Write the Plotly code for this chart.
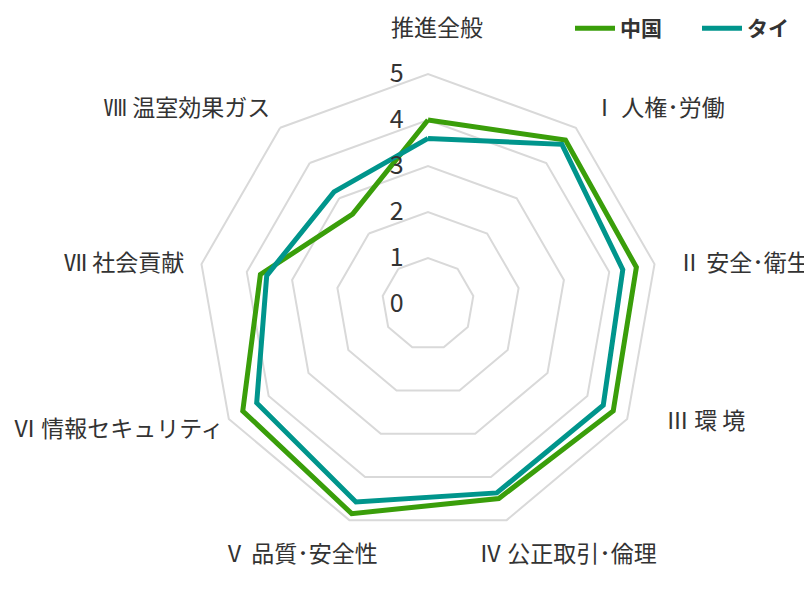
import plotly.graph_objects as go

categories = ["推進全般", "Ⅰ 人権･労働", "Ⅱ 安全･衛生", "Ⅲ 環 境", "Ⅳ 公正取引･倫理",
              "Ⅴ 品質･安全性", "Ⅵ 情報セキュリティ", "Ⅶ 社会貢献", "Ⅷ 温室効果ガス"]
china = [4.0, 4.65, 4.6, 4.65, 4.5, 4.85, 4.65, 3.7, 2.55]
thailand = [3.6, 4.53, 4.3, 4.4, 4.37, 4.58, 4.3, 3.56, 3.18]
radial_ticks = [0, 1, 2, 3, 4, 5]

# label centres (pixels) for the category names around the web
label_px = [(429, 18), (651, 98), (736, 253), (697, 411), (560, 544),
            (292, 544), (110, 419), (116, 253), (179, 98)]

FONT = "Noto Sans CJK JP"
W, H = 812, 594

fig = go.Figure()
for name, vals, color in [("中国", china, "#3a9e0a"), ("タイ", thailand, "#00958c")]:
    fig.add_trace(go.Scatterpolar(
        r=vals + vals[:1], theta=categories + categories[:1],
        mode="lines", name=name,
        line=dict(color=color, width=5),
    ))

annotations = []
for text, (px, py) in zip(categories, label_px):
    annotations.append(dict(text=text, x=px / W, y=1 - py / H, xref="paper", yref="paper",
                            xanchor="center", yanchor="middle", showarrow=False,
                            font=dict(size=23, color="#333333", family=FONT)))

fig.update_layout(
    width=W, height=H,
    margin=dict(l=0, r=0, t=0, b=0, autoexpand=False),
    paper_bgcolor="white",
    font=dict(family=FONT, color="#333333", size=22),
    polar=dict(
        domain=dict(x=[190/W, 650/W], y=[1-526/H, 1-66/H]),
        bgcolor="white",
        gridshape="linear",
        angularaxis=dict(direction="clockwise", rotation=90,
                         showgrid=False, showline=True, linecolor="#d9d9d9", linewidth=2,
                         showticklabels=False, ticks=""),
        radialaxis=dict(range=[0, 5], tickvals=radial_ticks, angle=90, tickangle=90,
                        showline=False, gridcolor="#d9d9d9", gridwidth=2,
                        side="counterclockwise",
                        ticks="outside", ticklen=15, tickcolor="rgba(0,0,0,0)",
                        tickfont=dict(size=25, color="#333333", family=FONT)),
    ),
    annotations=annotations,
    legend=dict(orientation="h", x=562/W, xanchor="left", y=1.0, yanchor="top",
                font=dict(size=21, color="#333333", family=FONT, weight="bold"),
                itemwidth=40, entrywidth=72, entrywidthmode="pixels"),
    showlegend=True,
)

fig.write_html("out.html")
